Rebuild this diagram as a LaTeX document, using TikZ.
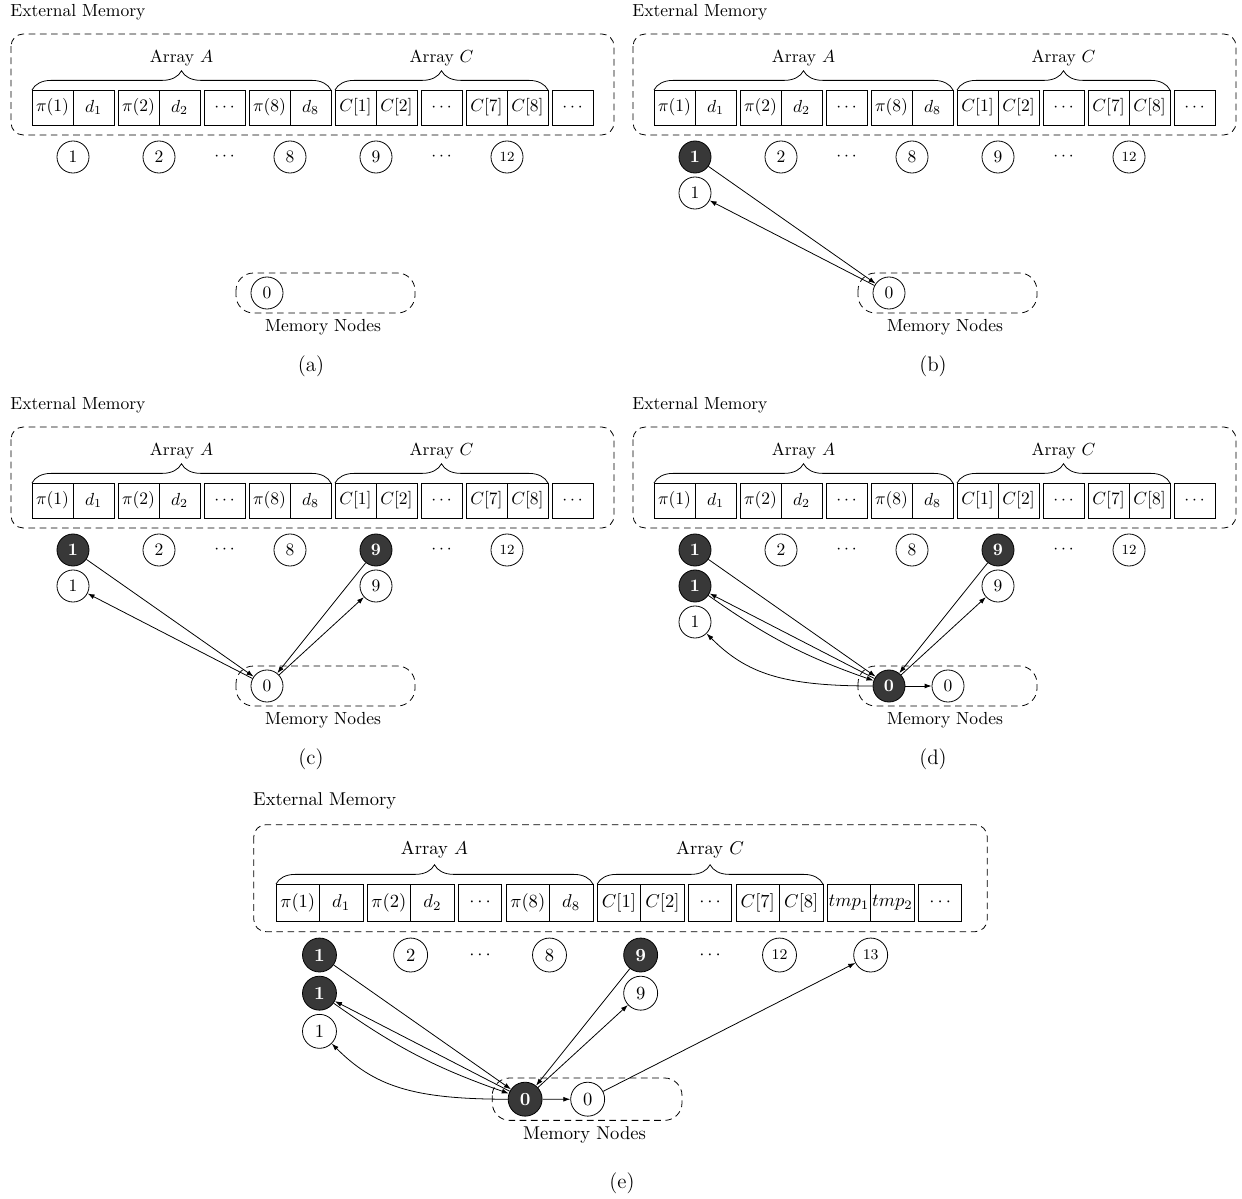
\documentclass[tikz,border=0pt]{standalone}
\usetikzlibrary{decorations.pathreplacing,arrows.meta,calc}
\tikzset{
  cell/.style={draw, minimum width=23.43pt, minimum height=20pt, inner sep=0.5pt},
  mnode/.style={draw, circle, minimum size=18.3pt, inner sep=0pt},
  dark/.style={mnode, fill=black!78, text=white, font=\bfseries},
  bigbox/.style={draw, dash pattern=on 3.8pt off 2.6pt, rounded corners=7pt},
  membox/.style={draw, dash pattern=on 3.8pt off 2.6pt, rounded corners=10pt},
  arr/.style={-{Latex[length=4pt,width=2.8pt]}},
  brc/.style={decorate, decoration={brace, amplitude=11pt}},
  captext/.style={font=\large},
}
% #1 prefix, #2 style of top 1, #3 style of top 9, #4 style of 0, #5 tmp flag
\newcommand\mempanel[5]{%
  \node[anchor=west, inner sep=0pt] (#1-em) at (10,12) {External Memory};
  \ifnum#5=1
    \draw[bigbox] (11,34) rectangle (703,135);
  \else
    \draw[bigbox] (11,34) rectangle (614,135);
  \fi
  \node[cell] (#1-p1) at (52.5,107.5) {$\pi(1)$};
  \node[cell] (#1-q1) at (93.5,107.5) {$d_1$};
  \node[cell] (#1-p2) at (138.5,107.5) {$\pi(2)$};
  \node[cell] (#1-q2) at (179.5,107.5) {$d_2$};
  \node[cell] (#1-da) at (224.5,107.5) {$\cdots$};
  \node[cell] (#1-p8) at (269.5,107.5) {$\pi(8)$};
  \node[cell] (#1-q8) at (310.5,107.5) {$d_8$};
  \node[cell] (#1-r1) at (355.5,107.5) {$C[1]$};
  \node[cell] (#1-r2) at (396.5,107.5) {$C[2]$};
  \node[cell] (#1-dc) at (441.5,107.5) {$\cdots$};
  \node[cell] (#1-r7) at (486.5,107.5) {$C[7]$};
  \node[cell] (#1-r8) at (527.5,107.5) {$C[8]$};
  \ifnum#5=1
    \node[cell] (#1-t1) at (572.5,107.5) {$tmp_1$};
    \node[cell] (#1-t2) at (613.5,107.5) {$tmp_2$};
    \node[cell] (#1-dz) at (658.5,107.5) {$\cdots$};
  \else
    \node[cell] (#1-dz) at (572.5,107.5) {$\cdots$};
  \fi
  \draw[brc] (32,90) -- (331,90);
  \node (#1-la) at (181.5,58) {Array $A$};
  \draw[brc] (335,90) -- (548,90);
  \node (#1-lc) at (441.5,58) {Array $C$};
  \node[#2] (#1-c1) at (73,157) {1};
  \node[mnode] (#1-c2) at (159,157) {2};
  \node (#1-x1) at (224.5,157) {$\cdots$};
  \node[mnode] (#1-c8) at (290,157) {8};
  \node[#3] (#1-c9) at (376,157) {9};
  \node (#1-x2) at (441.5,157) {$\cdots$};
  \node[mnode, font=\footnotesize] (#1-c12) at (507,157) {12};
  \ifnum#5=1
    \node[mnode, font=\footnotesize] (#1-c13) at (593,157) {13};
  \fi
  \draw[membox] (236,273) rectangle (415,313);
  \node[#4] (#1-m0) at (267,293) {0};
  \node (#1-mn) at (323,327) {Memory Nodes};
}
\begin{document}
\begin{tikzpicture}[x=0.5714pt, y=-0.5714pt, line width=0.45pt]
\useasboundingbox (0,0) rectangle (1242,1199);

% (a)
\begin{scope}
  \mempanel{a}{mnode}{mnode}{mnode}{0}
\end{scope}

% (b)
\begin{scope}[shift={(622,0)}]
  \mempanel{b}{dark}{mnode}{mnode}{0}
  \node[mnode] (b-w1) at (73,193) {1};
  \draw[arr] (b-c1) -- (b-m0);
  \draw[arr] (b-m0) -- (b-w1);
\end{scope}

% (c)
\begin{scope}[shift={(0,393)}]
  \mempanel{c}{dark}{dark}{mnode}{0}
  \node[mnode] (c-w1) at (73,193) {1};
  \node[mnode] (c-w9) at (376,193) {9};
  \draw[arr] (c-c1) -- (c-m0);
  \draw[arr] (c-m0) -- (c-w1);
  \draw[arr] (c-c9) -- (c-m0);
  \draw[arr] (c-m0) -- (c-w9);
\end{scope}

% (d)
\begin{scope}[shift={(622,393)}]
  \mempanel{d}{dark}{dark}{dark}{0}
  \node[dark] (d-k1) at (73,193) {1};
  \node[mnode] (d-w1) at (73,229) {1};
  \node[mnode] (d-w9) at (376,193) {9};
  \node[mnode] (d-n0) at (326,293) {0};
  \draw[arr] (d-c1) -- (d-m0);
  \draw[arr] (d-m0) -- (d-k1);
  \draw[arr] (d-k1) to[bend right=8] (d-m0);
  \draw[arr] (d-m0.west) .. controls +(-90,0) and +(40,40) .. (d-w1.-45);
  \draw[arr] (d-c9) -- (d-m0);
  \draw[arr] (d-m0) -- (d-w9);
  \draw[arr] (d-m0) -- (d-n0);
\end{scope}

% (e)
\begin{scope}[shift={(242.1,788.6)}, scale=1.06, transform shape]
  \mempanel{e}{dark}{dark}{dark}{1}
  \node[dark] (e-k1) at (73,193) {1};
  \node[mnode] (e-w1) at (73,229) {1};
  \node[mnode] (e-w9) at (376,193) {9};
  \node[mnode] (e-n0) at (326,293) {0};
  \draw[arr] (e-c1) -- (e-m0);
  \draw[arr] (e-m0) -- (e-k1);
  \draw[arr] (e-k1) to[bend right=8] (e-m0);
  \draw[arr] (e-m0.west) .. controls +(-90,0) and +(40,40) .. (e-w1.-45);
  \draw[arr] (e-c9) -- (e-m0);
  \draw[arr] (e-m0) -- (e-w9);
  \draw[arr] (e-m0) -- (e-n0);
  \draw[arr] (e-n0) -- (e-c13);
\end{scope}

\node[captext] (cap-a) at (311,366) {(a)};
\node[captext] (cap-b) at (933,366) {(b)};
\node[captext] (cap-c) at (311,759) {(c)};
\node[captext] (cap-d) at (933,759) {(d)};
\node[captext] (cap-e) at (622,1183) {(e)};
\end{tikzpicture}
\end{document}
